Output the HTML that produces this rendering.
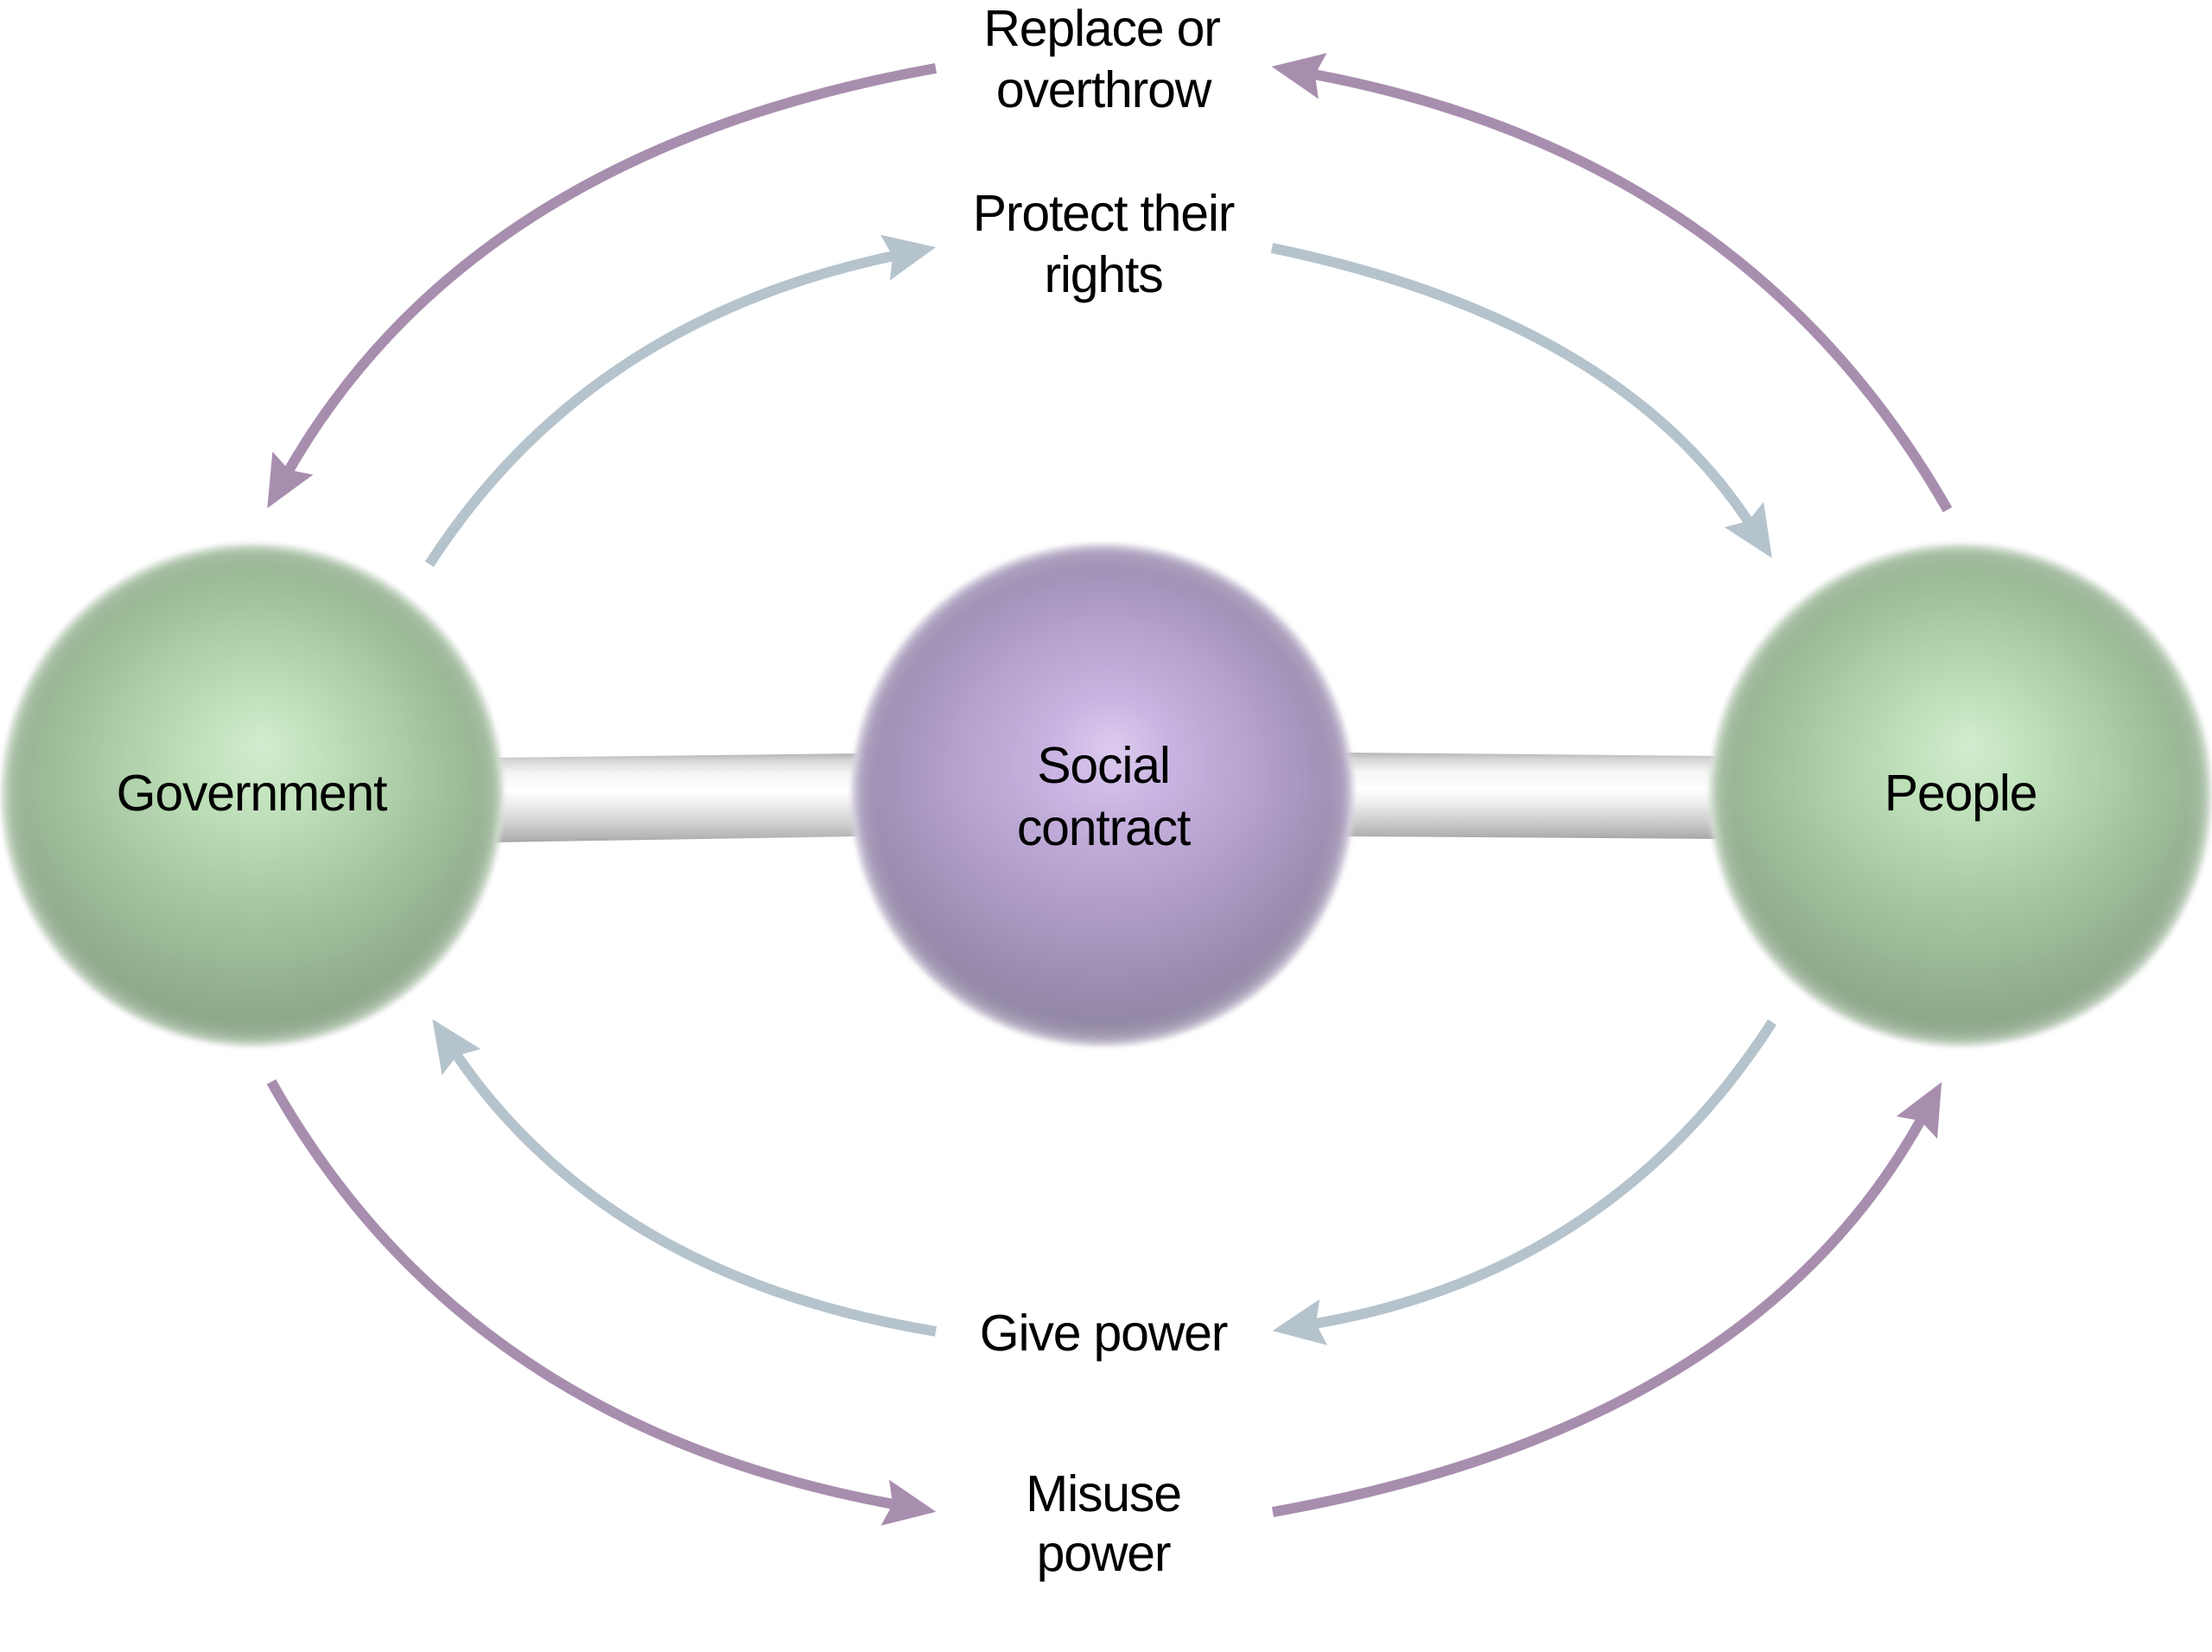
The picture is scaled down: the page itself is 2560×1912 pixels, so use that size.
<!DOCTYPE html>
<html>
<head>
<meta charset="utf-8">
<style>
  html, body { margin: 0; padding: 0; background: #ffffff; }
  body { width: 2560px; height: 1912px; overflow: hidden; }
  svg { display: block; }
  text { font-family: "Liberation Sans", Arial, sans-serif; font-size: 59px; fill: #000; letter-spacing: -1.2px; }
</style>
</head>
<body>
<svg width="2560" height="1912" viewBox="0 0 2560 1912" xmlns="http://www.w3.org/2000/svg">
  <defs>
    <radialGradient id="gGreen" cx="0.5" cy="0.5" r="0.5" fx="0.52" fy="0.4">
      <stop offset="0" stop-color="#d2ebcf"/>
      <stop offset="0.25" stop-color="#bfe1ba"/>
      <stop offset="0.6" stop-color="#aacba5"/>
      <stop offset="0.85" stop-color="#9bba96"/>
      <stop offset="0.95" stop-color="#97b293"/>
      <stop offset="1" stop-color="#b8cbb5"/>
    </radialGradient>
    <radialGradient id="gPurple" cx="0.5" cy="0.5" r="0.5" fx="0.52" fy="0.4">
      <stop offset="0" stop-color="#dccbee"/>
      <stop offset="0.25" stop-color="#c8b2e1"/>
      <stop offset="0.6" stop-color="#b4a1cc"/>
      <stop offset="0.85" stop-color="#a393b9"/>
      <stop offset="0.95" stop-color="#9e90b2"/>
      <stop offset="1" stop-color="#bbb1cb"/>
    </radialGradient>
    <linearGradient id="gShade" x1="0" y1="0" x2="0" y2="1">
      <stop offset="0" stop-color="#000" stop-opacity="0"/>
      <stop offset="0.5" stop-color="#000" stop-opacity="0"/>
      <stop offset="1" stop-color="#1a2a1a" stop-opacity="0.10"/>
    </linearGradient>
    <radialGradient id="gRim" cx="0.5" cy="0.5" r="0.5">
      <stop offset="0.9" stop-color="#fff" stop-opacity="0"/>
      <stop offset="0.97" stop-color="#fff" stop-opacity="0.15"/>
      <stop offset="1" stop-color="#fff" stop-opacity="0.55"/>
    </radialGradient>
    <linearGradient id="gBar" x1="0" y1="0" x2="0" y2="1">
      <stop offset="0" stop-color="#b4b4b4"/>
      <stop offset="0.08" stop-color="#d6d6d6"/>
      <stop offset="0.22" stop-color="#f5f5f5"/>
      <stop offset="0.42" stop-color="#ffffff"/>
      <stop offset="0.58" stop-color="#eeeeee"/>
      <stop offset="0.78" stop-color="#d0d0d0"/>
      <stop offset="0.92" stop-color="#b9b9b9"/>
      <stop offset="1" stop-color="#a6a6a6"/>
    </linearGradient>
    <filter id="soft" x="-10%" y="-10%" width="120%" height="120%">
      <feGaussianBlur stdDeviation="3"/>
    </filter>
    <marker id="aP" markerUnits="userSpaceOnUse" viewBox="0 -30 62 60" markerWidth="62" markerHeight="60" refX="16" refY="0" orient="auto" overflow="visible">
      <path d="M60,0 L0,-27 L9,0 L0,27 Z" fill="#a88eae"/>
    </marker>
    <marker id="aB" markerUnits="userSpaceOnUse" viewBox="0 -30 62 60" markerWidth="62" markerHeight="60" refX="16" refY="0" orient="auto" overflow="visible">
      <path d="M60,0 L0,-27 L9,0 L0,27 Z" fill="#b5c3cd"/>
    </marker>
  </defs>

  <!-- Bars -->
  <polygon points="570,877 995,872 995,968 570,975" fill="url(#gBar)"/>
  <polygon points="1555,871 1990,875 1990,971 1555,968" fill="url(#gBar)"/>

  <!-- Spheres -->
  <g filter="url(#soft)">
    <circle cx="292" cy="920" r="291" fill="url(#gGreen)"/>
    <circle cx="292" cy="920" r="291" fill="url(#gShade)"/>
    <circle cx="292" cy="920" r="291" fill="url(#gRim)"/>

    <circle cx="1276" cy="920" r="291" fill="url(#gPurple)"/>
    <circle cx="1276" cy="920" r="291" fill="url(#gShade)"/>
    <circle cx="1276" cy="920" r="291" fill="url(#gRim)"/>

    <circle cx="2269" cy="920" r="291" fill="url(#gGreen)"/>
    <circle cx="2269" cy="920" r="291" fill="url(#gShade)"/>
    <circle cx="2269" cy="920" r="291" fill="url(#gRim)"/>
  </g>

  <!-- Arrows -->
  <g fill="none" stroke-width="12" stroke-linecap="butt">
    <path d="M1083,79 Q543,176 331,550" stroke="#a88eae" marker-end="url(#aP)"/>
    <path d="M2254,590 Q2019,178 1515,85" stroke="#a88eae" marker-end="url(#aP)"/>
    <path d="M497,653 Q680,369 1040,295" stroke="#b5c3cd" marker-end="url(#aB)"/>
    <path d="M1472,287 Q1873,370 2027,609" stroke="#b5c3cd" marker-end="url(#aB)"/>
    <path d="M2051,1183 Q1863,1475 1516,1533" stroke="#b5c3cd" marker-end="url(#aB)"/>
    <path d="M1083,1541 Q702,1478 525,1216" stroke="#b5c3cd" marker-end="url(#aB)"/>
    <path d="M314,1252 Q538,1652 1040,1742" stroke="#a88eae" marker-end="url(#aP)"/>
    <path d="M1473,1750 Q2029,1651 2226,1291" stroke="#a88eae" marker-end="url(#aP)"/>
  </g>

  <!-- Labels -->
  <g text-anchor="middle">
    <text x="1275" y="53">Replace or</text>
    <text x="1277" y="124">overthrow</text>
    <text x="1277" y="267">Protect their</text>
    <text x="1277" y="338">rights</text>
    <text x="1277" y="1563">Give power</text>
    <text x="1277" y="1749">Misuse</text>
    <text x="1277" y="1818">power</text>
    <text x="291" y="938">Government</text>
    <text x="1277" y="906">Social</text>
    <text x="1277" y="978">contract</text>
    <text x="2269" y="938">People</text>
  </g>
</svg>
</body>
</html>
